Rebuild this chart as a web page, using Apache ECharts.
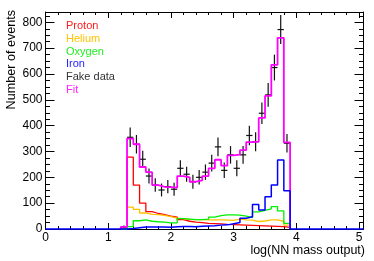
<!DOCTYPE html>
<html>
<head>
<meta charset="utf-8">
<script src="https://cdn.jsdelivr.net/npm/echarts@6/dist/echarts.min.js"></script>
<style>
  html, body { margin: 0; padding: 0; background: #fff; }
  #chart { width: 374px; height: 261px; }
</style>
</head>
<body>
<div id="chart"></div>
<script>
// Histogram bin edges (log(NN mass output))
const binEdges = [1.2, 1.3, 1.4, 1.5, 1.6, 1.7, 1.8, 1.9, 2.0, 2.1, 2.2, 2.3, 2.4, 2.5,
                  2.6, 2.7, 2.8, 2.9, 3.0, 3.1, 3.2, 3.3, 3.4, 3.5, 3.6, 3.7, 3.8, 3.9];

// Component templates (Number of events per bin)
const proton = [7, 278, 170, 100, 67, 60, 56, 50, 46, 36, 30, 27, 25, 22,
                21, 20, 18, 17, 16, 15, 14, 13, 12, 11, 10, 9, 6];
const helium = [2, 85, 76, 62, 57, 56, 53, 48, 42, 40, 37, 36, 36, 35,
                35, 35, 34, 33, 38, 35, 34, 29, 31, 35, 35, 30, 15];
const oxygen = [0, 9, 32, 35, 30, 28, 27, 24, 24, 40, 38, 36, 36, 38,
                46, 52, 55, 55, 54, 50, 44, 66, 72, 78, 87, 70, 22];
const iron   = [0, 2, 5, 8, 8, 8, 8, 7, 9, 10, 10, 9, 11, 12,
                13, 15, 16, 20, 25, 42, 47, 95, 74, 125, 170, 267, 148];
const fit    = [8, 350, 328, 240, 220, 170, 163, 162, 160, 205, 200, 183, 188, 205,
                235, 268, 245, 285, 288, 305, 336, 338, 430, 515, 635, 740, 335];
// Fake data points and their error bars
const fakeData = [8, 355, 328, 270, 205, 170, 151, 164, 154, 235, 212, 183, 200, 220,
                  255, 318, 227, 287, 235, 287, 362, 338, 448, 519, 625, 772, 332];
const fakeErr  = [6, 38, 36, 33, 29, 26, 25, 26, 25, 31, 29, 27, 28, 30,
                  32, 36, 30, 34, 31, 34, 38, 37, 42, 46, 50, 56, 36];

const xMin = 0, xMax = 5.07, yMin = 0, yMax = 840;
const FONT = '"Liberation Sans", Arial, Helvetica, sans-serif';

function stepData(vals) {
  const d = [[binEdges[0], 0]];
  vals.forEach((v, i) => d.push([binEdges[i], v]));
  d.push([binEdges[vals.length], 0]);
  return d;
}
function ironData(vals) {
  const d = [[xMin, 0]];
  vals.forEach((v, i) => d.push([binEdges[i], v]));
  d.push([binEdges[vals.length], 0]);
  d.push([xMax, 0]);
  return d;
}
const pointData = fakeData.map((v, i) => [
  (binEdges[i] + binEdges[i + 1]) / 2, v, fakeErr[i], (binEdges[i + 1] - binEdges[i]) / 2
]);

const chart = echarts.init(document.getElementById('chart'), null, { renderer: 'canvas' });

function lineSeries(name, color, data, width) {
  return {
    name: name, type: 'line', step: 'end', data: data, showSymbol: false, symbol: 'none',
    clip: false, lineStyle: { color: color, width: width }, itemStyle: { color: color },
    animation: false, silent: true
  };
}

option = {
  animation: false,
  backgroundColor: '#fff',
  textStyle: { fontFamily: FONT },
  grid: { left: 45.5, right: 10.5, top: 12, bottom: 32, containLabel: false },
  legend: {
    orient: 'vertical', left: 61, top: 20, padding: 0, icon: 'none',
    itemWidth: 0, itemHeight: 0, itemGap: 0, selectedMode: false,
    textStyle: { fontSize: 11, lineHeight: 12.7, fontFamily: FONT },
    data: [
      { name: 'Proton', textStyle: { color: '#ff1a1a' } },
      { name: 'Helium', textStyle: { color: '#ffc400' } },
      { name: 'Oxygen', textStyle: { color: '#22ee22' } },
      { name: 'Iron', textStyle: { color: '#2222ff' } },
      { name: 'Fake data', textStyle: { color: '#333333' } },
      { name: 'Fit', textStyle: { color: '#ff22ff' } }
    ]
  },
  xAxis: [
    { type: 'value', position: 'bottom', min: xMin, max: xMax, interval: 1,
      axisLine: { show: true, onZero: false, lineStyle: { color: '#000', width: 1 } },
      axisTick: { show: true, inside: true, length: 6, lineStyle: { color: '#000' } },
      axisLabel: { show: true, margin: 3, fontSize: 12, color: '#000', fontFamily: FONT, showMaxLabel: false },
      splitLine: { show: false } },
    { type: 'value', position: 'bottom', min: xMin, max: xMax, interval: 0.2,
      axisLine: { show: false, onZero: false },
      axisTick: { show: true, inside: true, length: 3, lineStyle: { color: '#000' } },
      axisLabel: { show: false }, splitLine: { show: false } },
    { type: 'value', position: 'top', min: xMin, max: xMax, interval: 1,
      axisLine: { show: true, onZero: false, lineStyle: { color: '#000', width: 1 } },
      axisTick: { show: true, inside: true, length: 6, lineStyle: { color: '#000' } },
      axisLabel: { show: false }, splitLine: { show: false } },
    { type: 'value', position: 'top', min: xMin, max: xMax, interval: 0.2,
      axisLine: { show: false, onZero: false },
      axisTick: { show: true, inside: true, length: 3, lineStyle: { color: '#000' } },
      axisLabel: { show: false }, splitLine: { show: false } }
  ],
  yAxis: [
    { type: 'value', position: 'left', min: yMin, max: yMax, interval: 100,
      axisLine: { show: true, onZero: false, lineStyle: { color: '#000', width: 1 } },
      axisTick: { show: true, inside: true, length: 9, lineStyle: { color: '#000' } },
      axisLabel: { show: true, margin: 3, fontSize: 12, color: '#000', fontFamily: FONT, showMaxLabel: false },
      splitLine: { show: false } },
    { type: 'value', position: 'left', min: yMin, max: yMax, interval: 25,
      axisLine: { show: false, onZero: false },
      axisTick: { show: true, inside: true, length: 4.5, lineStyle: { color: '#000' } },
      axisLabel: { show: false }, splitLine: { show: false } },
    { type: 'value', position: 'right', min: yMin, max: yMax, interval: 100,
      axisLine: { show: true, onZero: false, lineStyle: { color: '#000', width: 1 } },
      axisTick: { show: true, inside: true, length: 9, lineStyle: { color: '#000' } },
      axisLabel: { show: false }, splitLine: { show: false } },
    { type: 'value', position: 'right', min: yMin, max: yMax, interval: 25,
      axisLine: { show: false, onZero: false },
      axisTick: { show: true, inside: true, length: 4.5, lineStyle: { color: '#000' } },
      axisLabel: { show: false }, splitLine: { show: false } }
  ],
  graphic: [
    { type: 'text', x: 12, y: 10, rotation: Math.PI / 2, silent: true,
      style: { text: 'Number of events', font: '12.6px ' + FONT, fill: '#000', align: 'right', verticalAlign: 'middle' } },
    { type: 'text', x: 365, y: 251, silent: true,
      style: { text: 'log(NN mass output)', font: '12.5px ' + FONT, fill: '#000', align: 'right', verticalAlign: 'middle' } }
  ],
  series: [
    lineSeries('Proton', '#ff0000', stepData(proton), 1.3),
    lineSeries('Helium', '#ffc000', stepData(helium), 1.3),
    lineSeries('Oxygen', '#00ee00', stepData(oxygen), 1.3),
    lineSeries('Fit', '#ff00ff', stepData(fit), 1.8),
    lineSeries('Iron', '#0000ff', ironData(iron), 1.5),
    {
      name: 'Fake data', type: 'custom', data: pointData, clip: false, silent: true,
      itemStyle: { color: '#111' },
      renderItem: function (params, api) {
        const x = api.value(0), y = api.value(1), e = api.value(2), hw = api.value(3);
        const c = api.coord([x, y]);
        const top = api.coord([x, y + e]);
        const bot = api.coord([x, Math.max(y - e, 0)]);
        const l = api.coord([x - hw, y]);
        const r = api.coord([x + hw, y]);
        const st = { stroke: '#111', lineWidth: 1.2 };
        return {
          type: 'group',
          children: [
            { type: 'line', shape: { x1: c[0], y1: top[1], x2: c[0], y2: bot[1] }, style: st },
            { type: 'line', shape: { x1: l[0], y1: c[1], x2: r[0], y2: c[1] }, style: st }
          ]
        };
      }
    }
  ]
};
chart.setOption(option);
</script>
</body>
</html>
